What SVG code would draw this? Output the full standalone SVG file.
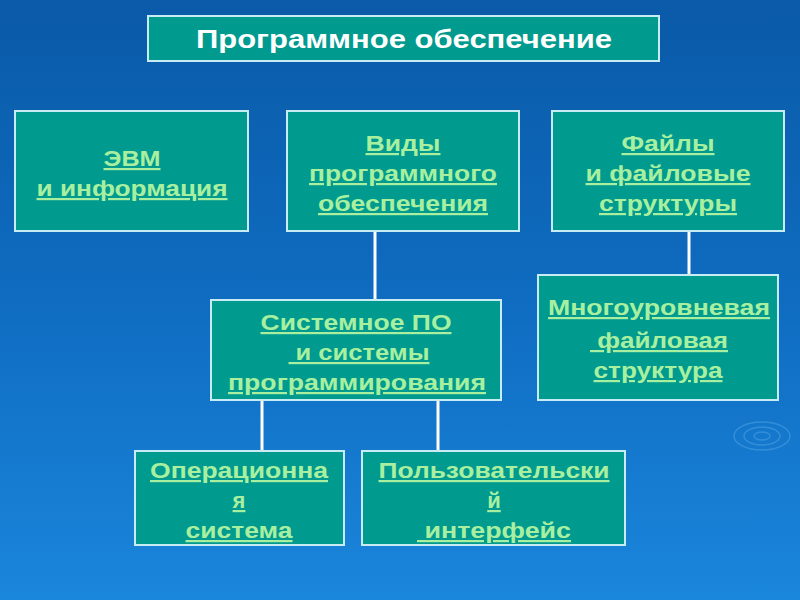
<svg xmlns="http://www.w3.org/2000/svg" width="800" height="600" viewBox="0 0 800 600">
<defs>
<linearGradient id="bg" x1="0" y1="0" x2="0" y2="1">
<stop offset="0" stop-color="#0a5aa8"/>
<stop offset="0.5" stop-color="#0f6cc0"/>
<stop offset="1" stop-color="#1a86dc"/>
</linearGradient>
</defs>
<style>
.box{fill:#009a8e;stroke:#c8ecf4;stroke-width:2}
.t{font-family:"Liberation Sans",Arial,sans-serif;font-weight:bold;font-size:22px;fill:#a8f0a0;text-anchor:middle;text-decoration:underline;white-space:pre}
.title{font-family:"Liberation Sans",Arial,sans-serif;font-weight:bold;font-size:25px;fill:#ffffff;text-anchor:middle}
.c{stroke:#ffffff;stroke-width:3;fill:none}
.rip{fill:none;stroke:#5aa8e8;stroke-opacity:0.45;stroke-width:1.5}
</style>
<rect width="800" height="600" fill="url(#bg)"/>
<g id="ripples">
<ellipse class="rip" cx="762" cy="436" rx="8" ry="4"/>
<ellipse class="rip" cx="762" cy="436" rx="18" ry="9"/>
<ellipse class="rip" cx="762" cy="436" rx="28" ry="14"/>
</g>
<g id="connectors">
<line class="c" x1="375" y1="231" x2="375" y2="300"/>
<line class="c" x1="689" y1="231" x2="689" y2="275"/>
<line class="c" x1="262" y1="400" x2="262" y2="451"/>
<line class="c" x1="438" y1="400" x2="438" y2="451"/>
</g>
<g id="title">
<rect class="box" x="148" y="16" width="511" height="45"/>
<text class="title" x="404" y="48" textLength="416" lengthAdjust="spacingAndGlyphs">Программное обеспечение</text>
</g>
<g id="evm">
<rect class="box" x="15" y="111" width="233" height="120"/>
<text class="t" x="132" y="166" textLength="57" lengthAdjust="spacingAndGlyphs">ЭВМ</text>
<text class="t" x="132" y="196" textLength="191" lengthAdjust="spacingAndGlyphs">и информация</text>
</g>
<g id="vidy">
<rect class="box" x="287" y="111" width="232" height="120"/>
<text class="t" x="403" y="151" textLength="75" lengthAdjust="spacingAndGlyphs">Виды</text>
<text class="t" x="403" y="181" textLength="188" lengthAdjust="spacingAndGlyphs">программного</text>
<text class="t" x="403" y="211" textLength="170" lengthAdjust="spacingAndGlyphs">обеспечения</text>
</g>
<g id="faily">
<rect class="box" x="552" y="111" width="232" height="120"/>
<text class="t" x="668" y="151" textLength="93" lengthAdjust="spacingAndGlyphs">Файлы</text>
<text class="t" x="668" y="181" textLength="165" lengthAdjust="spacingAndGlyphs">и файловые</text>
<text class="t" x="668" y="211" textLength="138" lengthAdjust="spacingAndGlyphs">структуры</text>
</g>
<g id="sistemnoe">
<rect class="box" x="211" y="300" width="290" height="100"/>
<text class="t" x="356" y="330" textLength="191" lengthAdjust="spacingAndGlyphs">Системное ПО</text>
<text class="t" x="359" y="360" textLength="141" lengthAdjust="spacingAndGlyphs" xml:space="preserve"> и системы</text>
<text class="t" x="357" y="390" textLength="258" lengthAdjust="spacingAndGlyphs">программирования</text>
</g>
<g id="mnogourovnevaya">
<rect class="box" x="538" y="275" width="240" height="125"/>
<text class="t" x="659" y="315" textLength="222" lengthAdjust="spacingAndGlyphs">Многоуровневая</text>
<text class="t" x="659" y="348" textLength="138" lengthAdjust="spacingAndGlyphs" xml:space="preserve"> файловая</text>
<text class="t" x="658" y="378" textLength="129" lengthAdjust="spacingAndGlyphs">структура</text>
</g>
<g id="os">
<rect class="box" x="135" y="451" width="209" height="94"/>
<text class="t" x="239" y="478" textLength="178" lengthAdjust="spacingAndGlyphs">Операционна</text>
<text class="t" x="239" y="508">я</text>
<text class="t" x="239" y="538" textLength="107" lengthAdjust="spacingAndGlyphs">система</text>
</g>
<g id="ui">
<rect class="box" x="362" y="451" width="263" height="94"/>
<text class="t" x="494" y="478" textLength="231" lengthAdjust="spacingAndGlyphs">Пользовательски</text>
<text class="t" x="494" y="508">й</text>
<text class="t" x="494" y="538" textLength="154" lengthAdjust="spacingAndGlyphs" xml:space="preserve"> интерфейс</text>
</g>
</svg>
